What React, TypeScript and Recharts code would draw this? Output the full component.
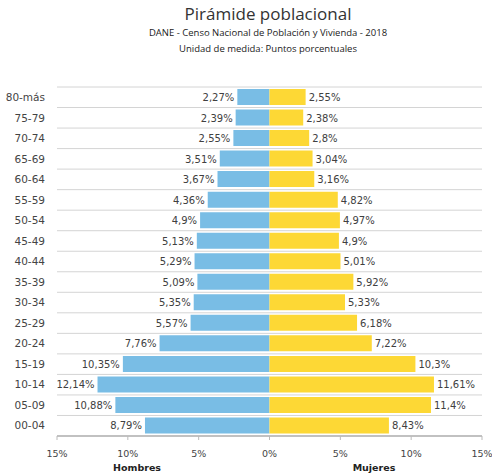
import React from "react";
import {
  BarChart,
  Bar,
  CartesianGrid,
  XAxis,
  YAxis,
  LabelList,
} from "recharts";

const grupos = [
  "80-más", "75-79", "70-74", "65-69", "60-64", "55-59", "50-54", "45-49", "40-44",
  "35-39", "30-34", "25-29", "20-24", "15-19", "10-14", "05-09", "00-04",
];
const hombres = [
  2.27, 2.39, 2.55, 3.51, 3.67, 4.36, 4.9, 5.13, 5.29, 5.09, 5.35, 5.57, 7.76, 10.35, 12.14, 10.88, 8.79,
];
const mujeres = [
  2.55, 2.38, 2.8, 3.04, 3.16, 4.82, 4.97, 4.9, 5.01, 5.92, 5.33, 6.18, 7.22, 10.3, 11.61, 11.4, 8.43,
];
const ticksX = [-15, -10, -5, 0, 5, 10, 15];

const data = grupos.map((g, i) => ({ grupo: g, hombres: -hombres[i], mujeres: mujeres[i] }));

const FONT = "'DejaVu Sans', sans-serif";
const TITLE_FONT = "'Open Sans', sans-serif";

const fmt = (v: number) => String(Math.abs(v)).replace(".", ",") + "%";

const LabelHombres = (props: any) => {
  const { x, y, width, height, value } = props;
  const end = Math.min(x, x + width);
  return (
    <text x={end - 3} y={y + height / 2 + 4} textAnchor="end" fontSize={10} fontFamily={FONT} fill="#404040">
      {fmt(value)}
    </text>
  );
};

const LabelMujeres = (props: any) => {
  const { x, y, width, height, value } = props;
  const end = Math.max(x, x + width);
  return (
    <text x={end + 3} y={y + height / 2 + 4} textAnchor="start" fontSize={10} fontFamily={FONT} fill="#404040">
      {fmt(value)}
    </text>
  );
};

const App = () => {
  return (
    <div style={{ position: "fixed", left: 0, top: 0, width: 492, height: 474, background: "#fff" }}>
      <div style={{ position: "absolute", left: 0, width: 536, top: 3, textAlign: "center", fontFamily: TITLE_FONT, color: "#333" }}>
        <div style={{ fontSize: 17, lineHeight: "22px" }}>Pirámide poblacional</div>
        <div style={{ fontSize: 9.5, lineHeight: "16px", color: "#222" }}>DANE - Censo Nacional de Población y Vivienda - 2018</div>
        <div style={{ fontSize: 9.5, lineHeight: "16px", color: "#222" }}>Unidad de medida: Puntos porcentuales</div>
      </div>
      <BarChart
        width={492}
        height={474}
        data={data}
        layout="vertical"
        stackOffset="sign"
        barSize={16}
        margin={{ top: 87, right: 10, bottom: 8, left: 7 }}
      >
        <CartesianGrid
          vertical={false}
          stroke="#d4d4d4"
          horizontalCoordinatesGenerator={({ offset }: any) =>
            Array.from({ length: grupos.length + 1 }, (_, i) => offset.top + (i * offset.height) / grupos.length)
          }
        />
        <XAxis
          type="number"
          domain={[-15, 15]}
          ticks={ticksX}
          height={30}
          tickFormatter={(v: number) => Math.abs(v) + "%"}
          tick={{ fontSize: 9.5, fontFamily: FONT, fill: "#444" }}
          axisLine={{ stroke: "#999" }}
          tickLine={{ stroke: "#bbb" }}
          tickSize={4}
          tickMargin={10}
        />
        <YAxis
          type="category"
          dataKey="grupo"
          width={50}
          axisLine={false}
          tickLine={false}
          tickSize={0}
          tickMargin={12}
          interval={0}
          tick={{ fontSize: 10.5, fontFamily: FONT, fill: "#444" }}
        />
        <Bar dataKey="hombres" stackId="a" fill="#79bde5" isAnimationActive={false}>
          <LabelList dataKey="hombres" content={LabelHombres} />
        </Bar>
        <Bar dataKey="mujeres" stackId="a" fill="#fdd835" isAnimationActive={false}>
          <LabelList dataKey="mujeres" content={LabelMujeres} />
        </Bar>
      </BarChart>
      <div style={{ position: "absolute", left: 137, top: 462, transform: "translateX(-50%)", fontFamily: FONT, fontWeight: "bold", fontSize: 9.5, color: "#222" }}>
        Hombres
      </div>
      <div style={{ position: "absolute", left: 374, top: 462, transform: "translateX(-50%)", fontFamily: FONT, fontWeight: "bold", fontSize: 9.5, color: "#222" }}>
        Mujeres
      </div>
    </div>
  );
};

export default App;
